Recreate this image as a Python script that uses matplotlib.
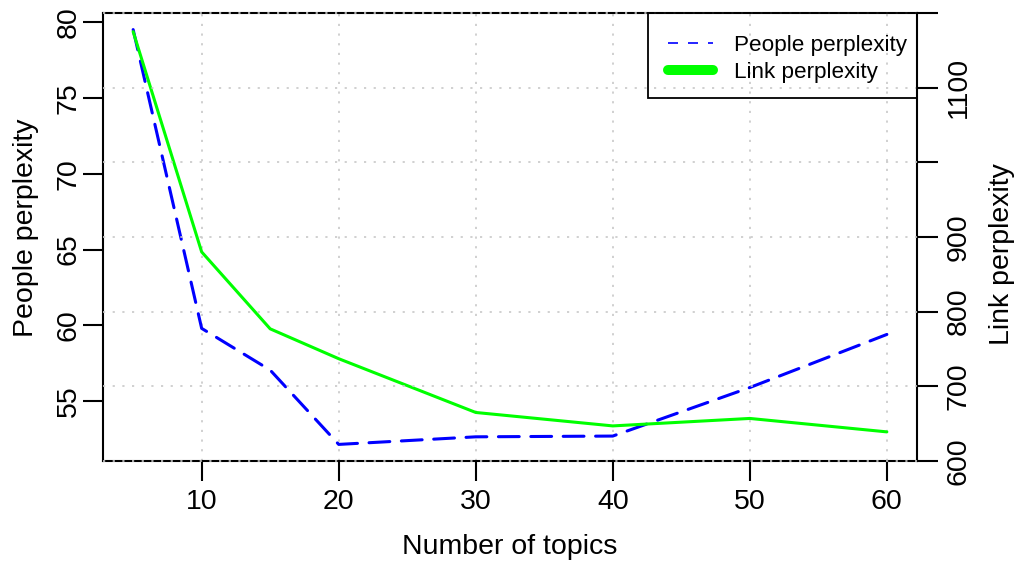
import matplotlib
matplotlib.use("Agg")
import matplotlib.pyplot as plt
from matplotlib.lines import Line2D
from matplotlib.patches import Rectangle

# Perplexity against number of topics
topics = [5, 10, 15, 20, 30, 40, 50, 60]
people_perplexity = [79.5, 59.8, 57.05, 52.15, 52.65, 52.7, 55.9, 59.4]
link_perplexity = [1175, 880, 777, 737, 665, 647, 657, 639]

x_ticks = [10, 20, 30, 40, 50, 60]
people_ticks = [55, 60, 65, 70, 75, 80]
link_ticks = [600, 700, 800, 900, 1000, 1100, 1200]
link_tick_labels = ["600", "700", "800", "900", "", "1100", ""]
link_limits = (600, 1200)

series_names = ["People perplexity", "Link perplexity"]

plt.rcParams["font.family"] = ["Liberation Sans", "DejaVu Sans"]

BLUE = "#0000FF"
GREEN = "#00FF00"
FS = 20.5


def padded(values, frac=0.04):
    lo, hi = min(values), max(values)
    d = (hi - lo) * frac
    return lo - d, hi + d


fig = plt.figure(figsize=(10.19, 5.65), dpi=100)
ax = fig.add_axes([103 / 1019, 104 / 565, 814 / 1019, 448 / 565])
ax2 = ax.twinx()

ax.set_xlim(padded(topics))
ax.set_ylim(padded(people_perplexity))
ax2.set_ylim(link_limits)

grid_style = dict(color="#C8C8C8", linewidth=1.2, linestyle=(0, (1.3, 4.5)))
for xv in x_ticks:
    ax.axvline(xv, zorder=1, **grid_style)
for yv in link_ticks:
    ax2.axhline(yv, zorder=3, clip_on=False, **grid_style)

ax.plot(topics, people_perplexity, color=BLUE, lw=2.2, dashes=(6.8, 3.8),
        dash_capstyle="round", dash_joinstyle="round", zorder=2)
ax2.plot(topics, link_perplexity, color=GREEN, lw=2.2,
         solid_capstyle="round", solid_joinstyle="round", zorder=2)

# box: left side from the people axis, the rest from the link axis
for side in ("top", "bottom", "right"):
    ax.spines[side].set_visible(False)
ax2.spines["left"].set_visible(False)
ax.spines["left"].set_linewidth(1.5)
for side in ("top", "bottom", "right"):
    ax2.spines[side].set_linewidth(1.5)
    ax2.spines[side].set_zorder(2.5)

ax.set_xticks(x_ticks)
ax.set_yticks(people_ticks)
ax2.set_yticks(link_ticks, labels=link_tick_labels)

ax.tick_params(axis="both", direction="out", length=14.4, width=1.5, labelsize=FS)
ax.tick_params(axis="x", pad=6)
ax.tick_params(axis="y", pad=1, labelrotation=90)
ax2.tick_params(axis="y", direction="out", length=15, width=1.5, labelsize=FS,
                pad=5.5, labelrotation=90)
for lab in ax.get_yticklabels() + ax2.get_yticklabels():
    lab.set_verticalalignment("center")

ax.set_xlabel("Number of topics", fontsize=FS)
ax.xaxis.set_label_coords(0.5, -0.163)
ax.set_ylabel("People perplexity", fontsize=FS)
ax.yaxis.set_label_coords(-0.0786, 0.52)
ax2.set_ylabel("Link perplexity", fontsize=FS)
ax2.yaxis.set_label_coords(1.089, 0.462)

# legend
ax2.add_patch(Rectangle((0.6695, 0.8103), 0.3305, 0.1897, transform=ax2.transAxes,
                        facecolor="none", edgecolor="black", lw=1.3,
                        clip_on=False, zorder=4))
handles = [
    Line2D([], [], color=BLUE, lw=1.2, dashes=(6, 6)),
    Line2D([], [], color=GREEN, lw=7.2, solid_capstyle="round"),
]
ax2.legend(handles, series_names, loc="upper left", bbox_to_anchor=(0.6941, 0.952),
           bbox_transform=ax2.transAxes, frameon=False, fontsize=16.2,
           handlelength=2.0, handletextpad=0.92, labelspacing=0.29,
           borderpad=0, borderaxespad=0)

fig.savefig("out.png", dpi=100)
